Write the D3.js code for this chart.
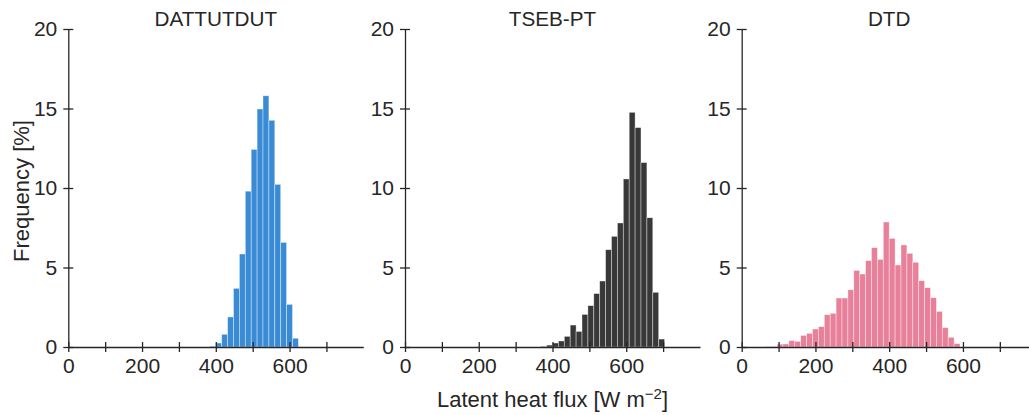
<!DOCTYPE html>
<html>
<head>
<meta charset="utf-8">
<script src="https://cdn.jsdelivr.net/npm/d3@7"></script>
<style>
  body { margin: 0; background: #fff; }
  svg text { font-family: "Liberation Sans", Arial, sans-serif; fill: #262626; }
  .axis path, .axis line { stroke: #262626; stroke-width: 1.3; }
</style>
</head>
<body>
<svg id="hist"></svg>
<script>
var width = 1029, height = 415;
var panel = {left: 68.3, top: 29, step: 336.7, w: 295, h: 318};

// data
var panelTitles = ["DATTUTDUT", "TSEB-PT", "DTD"];
var binWidth = 16;                 // W m-2
var binStarts = [384, 368, 64];    // left edge of first bin of each panel
var dattutdutFreq = [0.05, 0.25, 0.8, 1.89, 3.69, 5.85, 9.8, 12.43, 14.97, 15.8, 14.26, 10.23, 6.58, 2.68, 0.55];
var tsebFreq = [0.04, 0.12, 0.25, 0.38, 0.67, 1.38, 0.98, 2.05, 2.6, 3.36, 4.15, 6.12, 6.96, 7.8, 10.57, 14.76, 13.8, 11.6, 8.13, 3.44, 0.5];
var dtdFreq = [0.02, 0.04, 0.18, 0.19, 0.4, 0.36, 0.73, 0.86, 1.13, 1.28, 2.03, 2.12, 3.08, 3.08, 3.6, 4.82, 4.59, 5.43, 6.25, 5.51, 7.86, 6.83, 5.16, 6.42, 5.89, 5.33, 4.17, 3.73, 3.1, 2.24, 1.22, 0.61, 0.21];
var xDomain = [0, 800];
var yDomain = [0, 20];
var xTicks = [0, 100, 200, 300, 400, 500, 600, 700];
var xTickLabels = [0, 200, 400, 600];
var yTicks = [0, 5, 10, 15, 20];

var barColors = ["#3a8bd5", "#383838", "#e8809a"];
var series = [dattutdutFreq, tsebFreq, dtdFreq];

var svg = d3.select("#hist")
    .attr("width", width)
    .attr("height", height);

var x = d3.scaleLinear().domain(xDomain).range([0, panel.w]);
var y = d3.scaleLinear().domain(yDomain).range([panel.h, 0]);

series.forEach(function(freq, p) {
    var g = svg.append("g")
        .attr("transform", "translate(" + (panel.left + p * panel.step) + "," + panel.top + ")");

    // build bins from the start edge and bin width
    var bins = freq.map(function(v, i) {
        return {x0: binStarts[p] + i * binWidth, x1: binStarts[p] + (i + 1) * binWidth, v: v};
    });

    g.selectAll("rect")
        .data(bins)
        .enter().append("rect")
        .attr("x", function(d) { return x(d.x0); })
        .attr("width", function(d) { return x(d.x1) - x(d.x0); })
        .attr("y", function(d) { return y(d.v); })
        .attr("height", function(d) { return y(0) - y(d.v); })
        .attr("fill", barColors[p])
        .attr("stroke", "#fff")
        .attr("stroke-width", 0.7)
        .attr("stroke-opacity", 0.55);

    var xAxis = g.append("g")
        .attr("class", "axis")
        .attr("transform", "translate(0," + panel.h + ")")
        .call(d3.axisBottom(x)
            .tickValues(xTicks)
            .tickSizeInner(5)
            .tickSizeOuter(0)
            .tickPadding(6)
            .tickFormat(function(d) { return xTickLabels.indexOf(d) >= 0 ? d : ""; }));
    xAxis.selectAll(".tick line").attr("y1", -5).attr("y2", 5);
    xAxis.selectAll("text").style("font-size", "21px");

    var yAxis = g.append("g")
        .attr("class", "axis")
        .call(d3.axisLeft(y)
            .tickValues(yTicks)
            .tickSizeInner(5)
            .tickSizeOuter(0)
            .tickPadding(6));
    yAxis.selectAll(".tick line").attr("x1", -5).attr("x2", 5);
    yAxis.selectAll("text").style("font-size", "21px");

    g.append("text")
        .attr("x", panel.w / 2)
        .attr("y", -3)
        .attr("text-anchor", "middle")
        .style("font-size", "20.7px")
        .text(panelTitles[p]);
});

svg.append("text")
    .attr("transform", "translate(29,191) rotate(-90)")
    .attr("text-anchor", "middle")
    .style("font-size", "22px")
    .text("Frequency [%]");

var xLabel = svg.append("text")
    .attr("x", panel.left + panel.step + panel.w / 2)
    .attr("y", 407)
    .attr("text-anchor", "middle")
    .style("font-size", "22px");
xLabel.append("tspan").text("Latent heat flux [W m");
xLabel.append("tspan").attr("dy", -8).style("font-size", "15px").text("\u22122");
xLabel.append("tspan").attr("dy", 8).text("]");
</script>
</body>
</html>
